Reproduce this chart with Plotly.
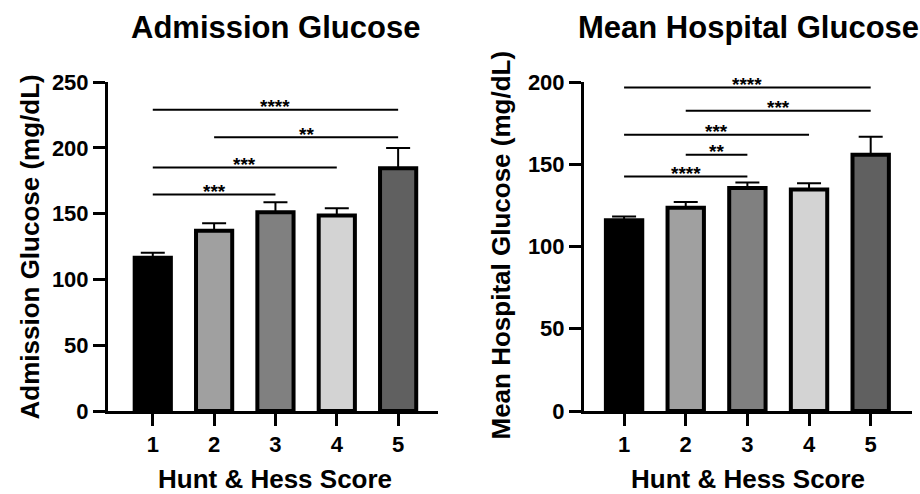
import plotly.graph_objects as go

# ---- data ----
categories = [1, 2, 3, 4, 5]
bar_colors = ["#000000", "#a0a0a0", "#808080", "#d3d3d3", "#606060"]

adm_mean = [116.5, 137.0, 151.0, 148.5, 184.5]
adm_err = [3.8, 5.6, 7.6, 5.6, 15.4]

mhg_mean = [116.0, 123.5, 135.6, 134.6, 155.7]
mhg_err = [2.2, 3.5, 3.3, 3.9, 11.0]

# significance brackets: (from, to, height, label)
adm_sig_from = [1, 2, 1, 1]
adm_sig_to = [5, 5, 4, 3]
adm_sig_y = [229.0, 208.0, 185.0, 164.5]
adm_sig_lbl = ["****", "**", "***", "***"]

mhg_sig_from = [1, 2, 1, 2, 1]
mhg_sig_to = [5, 5, 4, 3, 3]
mhg_sig_y = [196.7, 182.5, 168.0, 155.7, 142.5]
mhg_sig_lbl = ["****", "***", "***", "**", "****"]

titles = ["Admission Glucose", "Mean Hospital Glucose"]
ytitles = ["Admission Glucose (mg/dL)", "Mean Hospital Glucose (mg/dL)"]
xtitle = "Hunt & Hess Score"
tick_labels = ["1", "2", "3", "4", "5"]

FONT = "Liberation Sans, Arial, Helvetica, sans-serif"
W, H = 920, 494

fig = go.Figure()

def add_bars(means, errs, xa, ya):
    fig.add_trace(go.Bar(
        x=categories, y=means, width=0.59,
        marker=dict(color=bar_colors, line=dict(color="black", width=4)),
        error_y=dict(type="data", array=errs, arrayminus=[0] * len(errs),
                     symmetric=False, color="black", thickness=2, width=12),
        xaxis=xa, yaxis=ya, showlegend=False, hoverinfo="skip",
    ))

add_bars(adm_mean, adm_err, "x", "y")
add_bars(mhg_mean, mhg_err, "x2", "y2")

shapes = []
annotations = []

def add_sig(froms, tos, ys, lbls, xr, yr):
    for a, b, yv, lb in zip(froms, tos, ys, lbls):
        shapes.append(dict(type="line", xref=xr, yref=yr, x0=a, x1=b, y0=yv, y1=yv,
                           line=dict(color="black", width=2)))
        annotations.append(dict(xref=xr, yref=yr, x=(a + b) / 2, y=yv, text=lb,
                                showarrow=False, yanchor="middle", yshift=3,
                                font=dict(family=FONT, size=19, color="black", weight="bold")))

add_sig(adm_sig_from, adm_sig_to, adm_sig_y, adm_sig_lbl, "x", "y")
add_sig(mhg_sig_from, mhg_sig_to, mhg_sig_y, mhg_sig_lbl, "x2", "y2")

# titles and axis titles
panel_cx = [275 / W, 748 / W]
for i in range(2):
    annotations.append(dict(xref="paper", yref="paper", x=panel_cx[i], y=1 - 28 / H,
                            text=titles[i], showarrow=False, xanchor="center", yanchor="middle",
                            font=dict(family=FONT, size=31, color="black", weight="bold")))
    annotations.append(dict(xref="paper", yref="paper", x=panel_cx[i], y=0,
                            text=xtitle, showarrow=False, xanchor="center", yanchor="bottom",
                            yshift=-2,
                            font=dict(family=FONT, size=26, color="black", weight="bold")))

ytitle_pos = [(29 / W, 1 - 247.5 / H), (500 / W, 1 - 245.5 / H)]
for i in range(2):
    annotations.append(dict(xref="paper", yref="paper", x=ytitle_pos[i][0], y=ytitle_pos[i][1],
                            text=ytitles[i], showarrow=False, textangle=-90,
                            xanchor="center", yanchor="middle",
                            font=dict(family=FONT, size=26, color="black", weight="bold")))

tickfont = dict(family=FONT, size=22, color="black", weight="bold")
axis_common = dict(showline=True, linewidth=3, linecolor="black", ticks="outside",
                   ticklen=12, tickwidth=3, tickcolor="black", showgrid=False,
                   zeroline=False, tickfont=tickfont, automargin=False)

ydom = [1 - 411 / H, 1 - 82 / H]

fig.update_layout(
    width=W, height=H, autosize=False,
    margin=dict(l=0, r=0, t=0, b=0, pad=0, autoexpand=False),
    paper_bgcolor="white", plot_bgcolor="white",
    bargap=0.4,
    xaxis=dict(domain=[108 / W, 438 / W], range=[0.27, 5.65], tickvals=categories,
               ticktext=tick_labels, anchor="y", **axis_common),
    yaxis=dict(domain=ydom, range=[0, 250], dtick=50, anchor="x", **axis_common),
    xaxis2=dict(domain=[584 / W, 912 / W], range=[0.35, 5.67], tickvals=categories,
                ticktext=tick_labels, anchor="y2", **axis_common),
    yaxis2=dict(domain=ydom, range=[0, 200], dtick=50, anchor="x2", **axis_common),
    shapes=shapes,
    annotations=annotations,
)

fig.write_html(
    "out.html",
    config={"displayModeBar": False, "staticPlot": True},
    post_script="document.body.style.margin='0';document.body.style.overflow='hidden';",
)
